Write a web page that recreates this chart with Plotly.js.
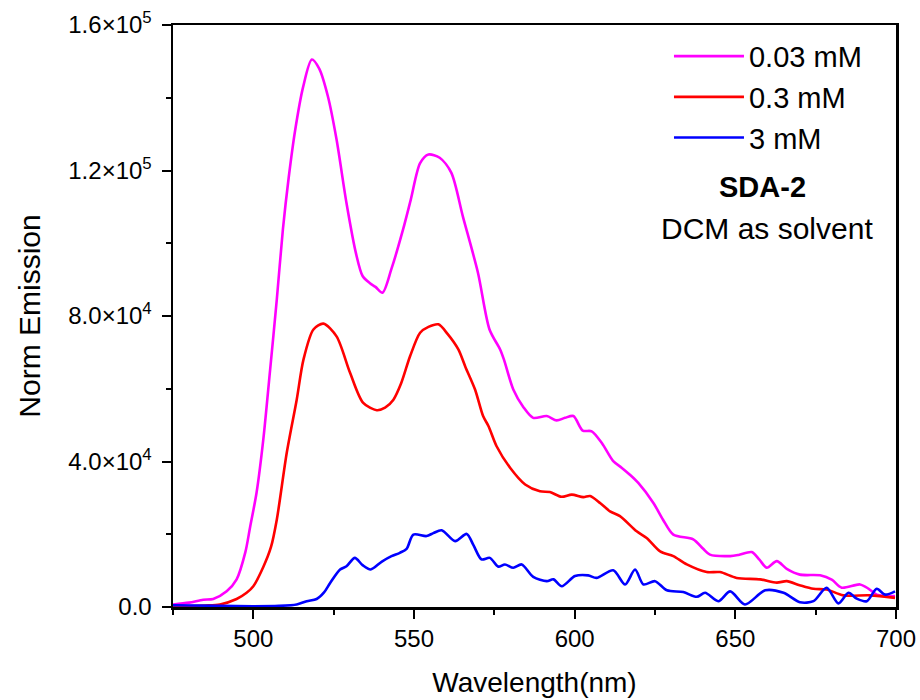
<!DOCTYPE html>
<html>
<head>
<meta charset="utf-8">
<script src="https://cdn.plot.ly/plotly-3.0.1.min.js"></script>
<style>html,body{margin:0;padding:0;background:#fff;}#chart{width:920px;height:700px;}</style>
</head>
<body>
<div id="chart"></div>
<script>
// wavelengths (nm) and emission values (x10^3)
var wlA = [475,480,484.4,487.5,491.7,494.8,497.5,499,501,503.1,505.2,507.3,509.2,511,513,515.5,518.2,520.5,523.2,525.9,529,532,534,536.3,538,540.2,543,546.6,549,551.9,554.5,558,561.6,565.2,569.9,573.5,576.8,578,580.9,584,587.1,591.3,594.4,597,599.6,602.5,605.3,608.5,612,614.6,617,619.8,624.5,627.5,630.7,636.9,640,642.1,648.4,651,655.1,657.5,659.8,662.9,666,670.1,676.4,680,683.1,688.8,691.5,694,699.7];
var emA = [0.7,1.2,2.0,2.2,4.3,7.6,15,22,31.4,46,65,84.5,103.8,118,131,143,150.5,148,140.4,128.5,111,97,91,89,88,86.4,93,103.8,112,122,124.4,123.5,119.4,107.4,91.9,76.3,70.8,68,59.8,55,52,52.5,51.3,52,52.5,48.5,48.3,45,40.1,38.3,36.5,34.1,28.6,24,19.9,18.6,16,14.4,14,14.3,15.1,13,10.8,12.6,10.5,8.9,8.7,7.5,5.3,6.2,5,3.4,3];

var wlB = [475,479.3,485,489.6,494.8,497.9,500,503.1,505.5,507.3,510.4,513.5,515.6,518.7,521.8,525.9,530.1,534.2,538.4,541,543.6,546,548.8,551.9,554.5,557.6,560.5,563.8,566,569,571.5,573.2,575.7,579.9,584.6,589.2,592.3,595.9,599.1,602.7,604.8,608,611,614.1,619.3,622.4,626.6,630.7,634.9,641.1,645.2,650.4,657.7,662.9,666,670,674.3,678.4,683.6,691.9,699.7];
var emB = [0.3,0.2,0.4,0.7,2.2,3.9,5.7,11,16.5,24,42.4,57,68,76.3,77.9,74.4,64.4,56.1,54.1,54.8,57,61.5,69,75.4,77,77.7,75,70.8,66,59.8,52.5,49.7,44.2,38.3,33.7,31.8,31.6,30.3,30.9,30.2,30.5,28.5,26.3,25,20.8,19,15.3,14,11.7,9.6,9.6,8,7.6,6.7,7.1,6,5,4.8,3.2,3.2,2.5];

var wlC = [475,490,500,508,513.5,516.6,519.7,522,523.9,527,529,531.6,534,536.5,540,543,545.6,547.7,549.8,553.9,556,558.6,562.8,566.4,568.5,571,573.6,576.2,578.3,580.9,583.5,587.1,591.3,593.4,596,600.1,604.2,606.8,612,615.7,618.8,621.4,625,628.7,633.8,638,640.6,644.7,648.4,653,659.3,665,670.1,674.3,678.4,682.1,685.2,687.8,690.9,694,696.6,699.7];
var emC = [0.5,0.3,0.2,0.3,0.7,1.6,2.2,4,6.6,10.3,11.2,13.5,11.5,10.3,12.5,14,14.9,16,19.9,19.5,20.3,21.1,18.1,20.1,17,13.1,13.5,11.1,11.7,10.8,11.7,8.3,7.1,7.6,5.7,8.5,8.7,8,10.1,6.2,10.3,6.2,7.1,4.6,4.1,2.8,3.9,1.6,4.3,0.7,4.6,3.9,1.3,1.6,5.3,1,3.9,2.3,1.6,5,3.4,4.3];

var seriesNames = ['0.03 mM','0.3 mM','3 mM'];
var yTickVals = [0,40000,80000,120000,160000];
var yTickText = ['0.0','4.0×10<sup>4</sup>','8.0×10<sup>4</sup>','1.2×10<sup>5</sup>','1.6×10<sup>5</sup>'];
var xTickVals = [500,550,600,650,700];

function scale(a){return a.map(function(v){return v*1000;});}

var font = 'Liberation Sans, Arial, sans-serif';
var traces = [
  {x: wlA, y: scale(emA), name: seriesNames[0], type:'scatter', mode:'lines', line:{color:'#FF00FF', width:2.6, shape:'spline', smoothing:0.8}},
  {x: wlB, y: scale(emB), name: seriesNames[1], type:'scatter', mode:'lines', line:{color:'#FF0000', width:2.6, shape:'spline', smoothing:0.8}},
  {x: wlC, y: scale(emC), name: seriesNames[2], type:'scatter', mode:'lines', line:{color:'#0000FF', width:2.6, shape:'spline', smoothing:0.8}}
];

var layout = {
  width: 920, height: 700,
  margin: {l:173, r:24, t:25, b:93},
  paper_bgcolor:'#fff', plot_bgcolor:'#fff',
  font: {family: font, color:'#000', size:24},
  showlegend: true,
  legend: {x:0.686, y:0.99, xanchor:'left', yanchor:'top', bgcolor:'rgba(0,0,0,0)', font:{size:29, family:font}, tracegroupgap:0, itemwidth:70},
  xaxis: {
    range:[475,700], tickvals:xTickVals, ticks:'outside', ticklen:9, tickwidth:2, tickcolor:'#000',
    showline:true, linewidth:2.5, linecolor:'#000', mirror:true, showgrid:false, zeroline:false,
    tickfont:{size:24, family:font},
    minor:{dtick:25, tick0:475, ticks:'outside', ticklen:5, tickwidth:2, tickcolor:'#000', showgrid:false},
    title:{text:'Wavelength(nm)', font:{size:28, family:font}, standoff:21}
  },
  yaxis: {
    range:[0,160000], tickvals:yTickVals, ticktext:yTickText, ticks:'outside', ticklen:9, tickwidth:2, tickcolor:'#000',
    showline:true, linewidth:2.5, linecolor:'#000', mirror:true, showgrid:false, zeroline:false,
    tickfont:{size:24, family:font}, ticklabelstandoff:5,
    minor:{dtick:20000, tick0:0, ticks:'outside', ticklen:5, tickwidth:2, tickcolor:'#000', showgrid:false},
    title:{text:'Norm Emission', font:{size:30, family:font}, standoff:19}
  },
  annotations: [
    {xref:'paper', yref:'paper', x:0.816, y:0.722, text:'<b>SDA-2</b>', showarrow:false, font:{size:29, family:font}, xanchor:'center', yanchor:'middle'},
    {xref:'paper', yref:'paper', x:0.822, y:0.651, text:'DCM as solvent', showarrow:false, font:{size:30, family:font}, xanchor:'center', yanchor:'middle'}
  ]
};

Plotly.newPlot('chart', traces, layout, {displayModeBar:false, staticPlot:true});
</script>
</body>
</html>
